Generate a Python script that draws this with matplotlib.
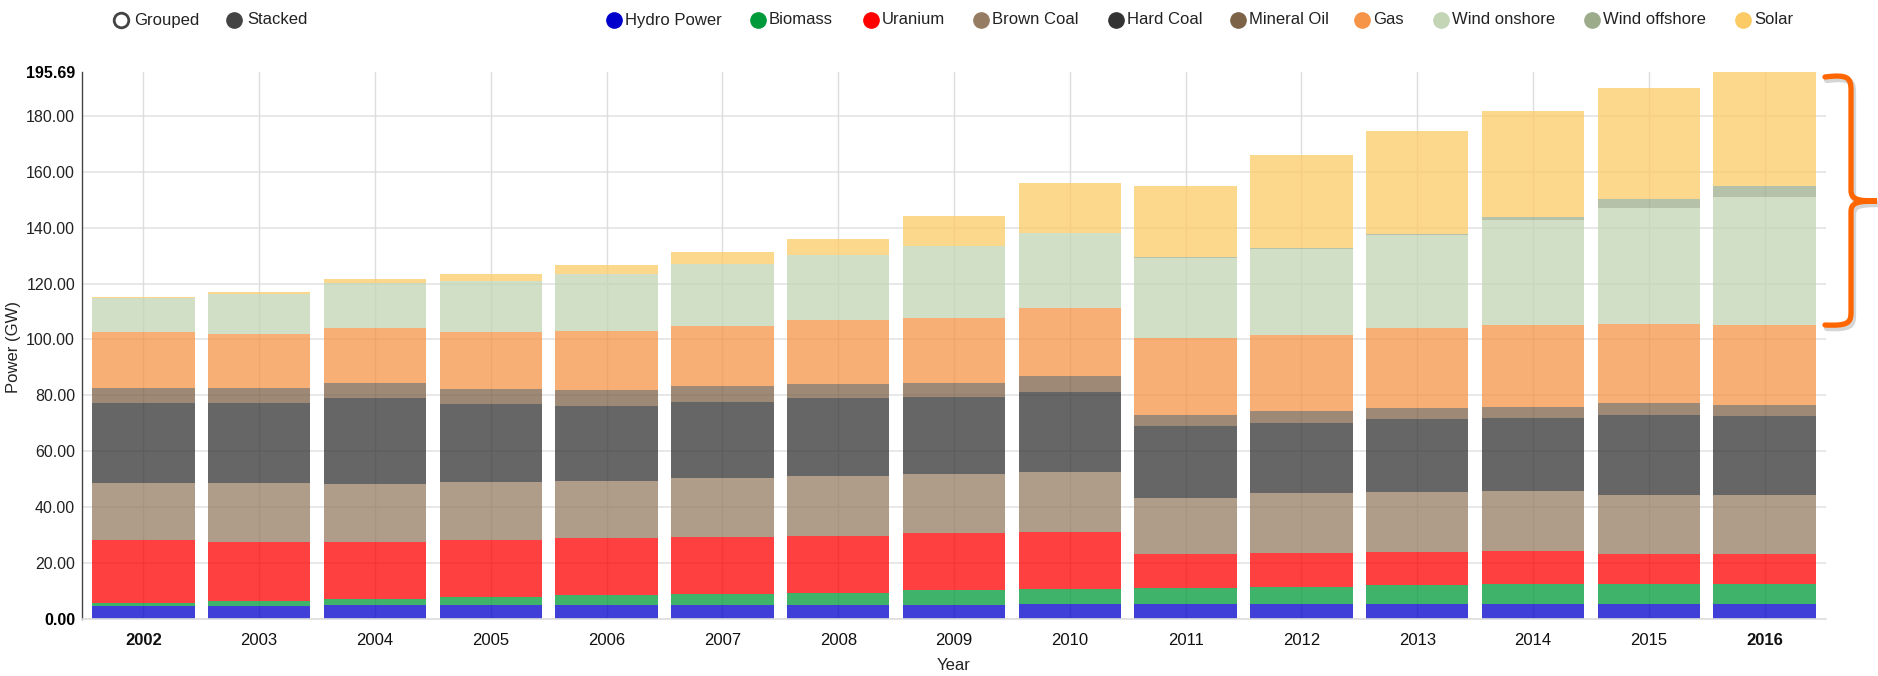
import matplotlib
matplotlib.use("Agg")
import matplotlib.pyplot as plt
import numpy as np
from matplotlib.path import Path
from matplotlib.patches import PathPatch
from matplotlib.lines import Line2D

plt.rcParams['font.family'] = ['Liberation Sans', 'DejaVu Sans']

years = ["2002", "2003", "2004", "2005", "2006", "2007", "2008", "2009",
         "2010", "2011", "2012", "2013", "2014", "2015", "2016"]
series_names = ["Hydro Power", "Biomass", "Uranium", "Brown Coal", "Hard Coal",
                "Mineral Oil", "Gas", "Wind onshore", "Wind offshore", "Solar"]
hydro = [4.6, 4.6, 4.9, 4.9, 4.9, 4.9, 4.9, 5.1, 5.3, 5.4, 5.4, 5.4, 5.4, 5.4, 5.4]
biomass = [1.3, 2.0, 2.2, 3.0, 3.7, 4.1, 4.5, 5.3, 5.5, 5.8, 6.1, 6.9, 7.1, 7.1, 7.1]
uranium = [22.5, 21.0, 20.5, 20.5, 20.2, 20.2, 20.3, 20.5, 20.3, 12.0, 12.0, 11.8, 11.9, 10.6, 10.6]
brown_coal = [20.4, 20.9, 20.8, 20.5, 20.5, 21.3, 21.4, 20.9, 21.5, 20.1, 21.5, 21.4, 21.4, 21.1, 21.1]
hard_coal = [28.4, 28.7, 30.5, 27.9, 27.0, 27.3, 27.8, 27.6, 28.7, 25.7, 25.2, 26.0, 26.1, 28.8, 28.4]
mineral_oil = [5.4, 5.4, 5.7, 5.5, 5.5, 5.6, 5.3, 5.0, 5.8, 4.0, 4.1, 4.0, 4.0, 4.2, 4.0]
gas = [20.2, 19.2, 19.4, 20.5, 21.4, 21.5, 22.9, 23.4, 24.0, 27.5, 27.3, 28.5, 29.2, 28.5, 28.7]
wind_onshore = [12.2, 14.6, 16.2, 18.2, 20.4, 22.1, 23.0, 25.6, 26.9, 28.8, 30.9, 33.5, 37.8, 41.4, 45.8]
wind_offshore = [0.0, 0.0, 0.0, 0.0, 0.0, 0.0, 0.0, 0.0, 0.1, 0.1, 0.2, 0.3, 0.9, 3.2, 3.8]
solar = [0.3, 0.5, 1.3, 2.4, 3.2, 4.3, 6.0, 10.7, 17.9, 25.6, 33.2, 36.8, 38.1, 39.7, 40.8]
y_max = 195.69
y_ticks = [0, 20, 40, 60, 80, 100, 120, 140, 160, 180, 195.69]

series = [hydro, biomass, uranium, brown_coal, hard_coal, mineral_oil,
          gas, wind_onshore, wind_offshore, solar]
colors = ["#0000CC", "#009A3A", "#FF0000", "#957C62", "#333333",
          "#7C6247", "#F69448", "#C3D5B5", "#9CAC8B", "#FCCB66"]

W, H = 1878, 676
fig = plt.figure(figsize=(W / 100, H / 100), dpi=100)

def fx(px):
    return px / W

def fy(py):
    return 1 - py / H

ax = fig.add_axes([fx(82), fy(619), fx(1826) - fx(82), fy(72) - fy(619)])
x = np.arange(len(years))
bottom = np.zeros(len(years))
for vals, col, name in zip(series, colors, series_names):
    v = np.array(vals)
    ax.bar(x, v, bottom=bottom, width=0.885, color=col, alpha=0.75,
           linewidth=0, zorder=2, label=name)
    bottom += v

ax.set_xlim(-0.53, len(years) - 0.47)
ax.set_ylim(0, y_max)
ax.set_yticks(y_ticks)
ax.set_yticklabels(["%.2f" % t for t in y_ticks])
ax.set_xticks(x)
ax.set_xticklabels(years)
for i, lab in enumerate(ax.get_xticklabels()):
    lab.set_fontsize(12)
    lab.set_color("#111111")
    if i in (0, len(years) - 1):
        lab.set_fontweight("bold")
for i, lab in enumerate(ax.get_yticklabels()):
    lab.set_fontsize(11.5)
    lab.set_color("#222222")
    if i in (0, len(y_ticks) - 1):
        lab.set_fontweight("bold")
        lab.set_color("#000000")
ax.tick_params(axis="both", length=0)
ax.tick_params(axis="y", pad=5)
ax.tick_params(axis="x", pad=10)

# grid
for t in y_ticks[1:-1]:
    ax.axhline(t, color="#e4e4e4", lw=1.2, zorder=1)
for xi in x:
    ax.axvline(xi, color="#dddddd", lw=1.0, zorder=1)

for s in ["top", "right"]:
    ax.spines[s].set_visible(False)
ax.spines["left"].set_color("#444444")
ax.spines["left"].set_linewidth(1.0)
ax.spines["bottom"].set_color("#dddddd")
ax.spines["bottom"].set_linewidth(1.2)

fig.text(fx(954), fy(666), "Year", ha="center", va="center", fontsize=12, color="#222222")
fig.text(fx(14), fy(347), "Power (GW)", rotation=90, ha="center", va="center",
         fontsize=12, color="#222222")

# top controls: Grouped / Stacked
ly = fy(20)
fig.add_artist(Line2D([fx(121)], [ly], marker="o", markersize=10.5,
                      markerfacecolor="white", markeredgecolor="#444444",
                      markeredgewidth=2, transform=fig.transFigure))
fig.text(fx(134), ly, "Grouped", ha="left", va="center", fontsize=12, color="#222222")
fig.add_artist(Line2D([fx(234)], [ly], marker="o", markersize=11,
                      markerfacecolor="#444444", markeredgecolor="#444444",
                      transform=fig.transFigure))
fig.text(fx(247), ly, "Stacked", ha="left", va="center", fontsize=12, color="#222222")

# series legend
legend_x = [614, 758, 871, 981, 1116, 1238, 1362, 1441, 1592, 1743]
for lx, col, name in zip(legend_x, colors, series_names):
    fig.add_artist(Line2D([fx(lx)], [ly], marker="o", markersize=11,
                          markerfacecolor=col, markeredgecolor=col,
                          transform=fig.transFigure))
    fig.text(fx(lx + 11), ly, name, ha="left", va="center", fontsize=12, color="#222222")

# orange curly bracket on the right
pts = [(1825, 77), (1848, 74), (1851, 78), (1851, 90),
       (1851, 190),
       (1851, 199), (1856, 201), (1877, 201),
       (1856, 201), (1851, 203), (1851, 212),
       (1851, 312),
       (1851, 323), (1848, 326), (1825, 325)]
codes = [Path.MOVETO, Path.CURVE4, Path.CURVE4, Path.CURVE4,
         Path.LINETO,
         Path.CURVE4, Path.CURVE4, Path.CURVE4,
         Path.CURVE4, Path.CURVE4, Path.CURVE4,
         Path.LINETO,
         Path.CURVE4, Path.CURVE4, Path.CURVE4]
shadow = Path([(fx(px + 2), fy(py + 3)) for px, py in pts], codes)
brace = Path([(fx(px), fy(py)) for px, py in pts], codes)
fig.add_artist(PathPatch(shadow, facecolor="none", edgecolor="#888888", alpha=0.35,
                         lw=4.5, transform=fig.transFigure, capstyle="round"))
fig.add_artist(PathPatch(brace, facecolor="none", edgecolor="#FF6600",
                         lw=3.8, transform=fig.transFigure, capstyle="round",
                         joinstyle="miter"))

fig.savefig("out.png", dpi=100)
